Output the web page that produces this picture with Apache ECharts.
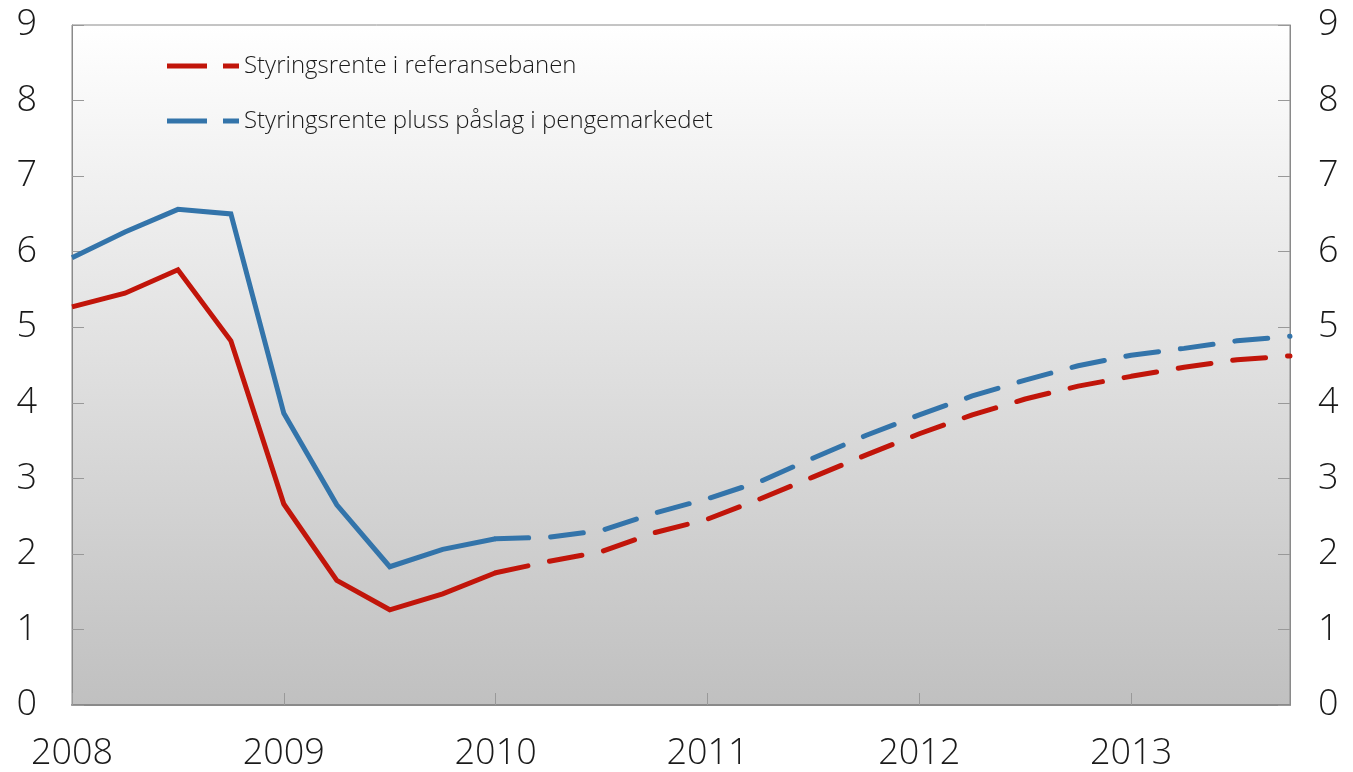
<!DOCTYPE html>
<html>
<head>
<meta charset="utf-8">
<script src="https://cdn.jsdelivr.net/npm/echarts@6/dist/echarts.min.js"></script>
<style>
  html, body { margin: 0; padding: 0; background: #fff; }
  #chart { width: 1353px; height: 772px; }
</style>
</head>
<body>
<div id="chart"></div>
<script>
// quarterly points, 2008 Q1 .. 2013 Q4
const quarters = [
  2008, 2008.25, 2008.5, 2008.75,
  2009, 2009.25, 2009.5, 2009.75,
  2010, 2010.25, 2010.5, 2010.75,
  2011, 2011.25, 2011.5, 2011.75,
  2012, 2012.25, 2012.5, 2012.75,
  2013, 2013.25, 2013.5, 2013.75
];

// Styringsrente i referansebanen
const policyRate = [
  5.27, 5.45, 5.76, 4.82, 2.66, 1.65, 1.26, 1.47,
  1.75, 1.90, 2.03, 2.28, 2.46, 2.73, 3.02, 3.31,
  3.59, 3.84, 4.05, 4.22, 4.35, 4.47, 4.57, 4.62
];

// Styringsrente pluss påslag i pengemarkedet
const moneyMarket = [
  5.92, 6.26, 6.56, 6.50, 3.86, 2.65, 1.83, 2.06,
  2.20, 2.22, 2.31, 2.54, 2.73, 2.96, 3.27, 3.57,
  3.84, 4.09, 4.30, 4.49, 4.63, 4.72, 4.82, 4.88
];

const lastActual = 8; // 2010 Q1: history ends, projection starts

const names = ['Styringsrente i referansebanen', 'Styringsrente pluss påslag i pengemarkedet'];
const colors = ['#c1150a', '#3374aa'];

const font = '"Open Sans", "Noto Sans", sans-serif';

function pairs(values, from, to) {
  return quarters.slice(from, to + 1).map((q, i) => [q, values[from + i]]);
}

function lines(name, values, color) {
  const common = {
    name: name,
    type: 'line',
    showSymbol: false,
    symbol: 'none',
    color: color,
    silent: true
  };
  return [
    Object.assign({}, common, {
      data: pairs(values, 0, lastActual),
      lineStyle: { width: 5, color: color, join: 'miter' }
    }),
    Object.assign({}, common, {
      data: pairs(values, lastActual, quarters.length - 1),
      lineStyle: { width: 5, color: color, type: [33, 22], cap: 'round' }
    })
  ];
}

const yAxisCommon = {
  type: 'value',
  min: 0,
  max: 9,
  interval: 1,
  axisLine: { show: true, lineStyle: { color: '#8a8a8a', width: 1 } },
  axisTick: { show: true, inside: true, length: 12, lineStyle: { color: '#999' } },
  splitLine: { show: false },
  axisLabel: { fontSize: 36, color: '#1a1a1a', fontFamily: font, fontWeight: 300 }
};

const chart = echarts.init(document.getElementById('chart'));

chart.setOption({
  animation: false,
  backgroundColor: '#fff',
  grid: {
    left: 72, right: 63, top: 25, bottom: 67,
    show: true,
    borderColor: '#8a8a8a',
    borderWidth: 1,
    backgroundColor: new echarts.graphic.LinearGradient(0, 0, 0, 1, [
      { offset: 0, color: '#ffffff' },
      { offset: 1, color: '#c0c0c0' }
    ])
  },
  legend: {
    orient: 'vertical',
    left: 162,
    top: 47,
    itemGap: 27,
    itemWidth: 72,
    itemHeight: 5,
    icon: 'path://M0,0h40v5h-40z M56,0h16v5h-16z',
    data: names,
    textStyle: { fontSize: 24, color: '#1a1a1a', fontFamily: font, fontWeight: 300, lineHeight: 28 }
  },
  xAxis: {
    type: 'value',
    min: 2008,
    max: 2013.75,
    interval: 1,
    axisLine: { show: true, lineStyle: { color: '#8a8a8a', width: 2 } },
    axisTick: { show: true, inside: true, length: 12, lineStyle: { color: '#999' } },
    splitLine: { show: false },
    axisLabel: {
      margin: 31,
      fontSize: 36,
      color: '#1a1a1a',
      fontFamily: font,
      fontWeight: 300,
      showMaxLabel: false,
      formatter: v => String(v)
    }
  },
  yAxis: [
    Object.assign({}, yAxisCommon, { position: 'left', axisLabel: Object.assign({}, yAxisCommon.axisLabel, { margin: 35 }) }),
    Object.assign({}, yAxisCommon, { position: 'right', axisLabel: Object.assign({}, yAxisCommon.axisLabel, { margin: 28 }) })
  ],
  series: [
    ...lines(names[0], policyRate, colors[0]),
    ...lines(names[1], moneyMarket, colors[1])
  ]
});
</script>
</body>
</html>
